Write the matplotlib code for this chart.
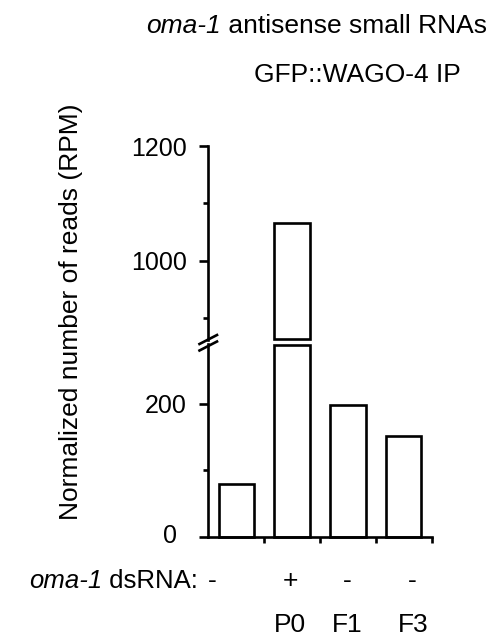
import matplotlib
matplotlib.use("Agg")
import matplotlib.pyplot as plt
from matplotlib.lines import Line2D
from matplotlib.transforms import ScaledTranslation
import numpy as np

plt.rcParams['font.family'] = ['Liberation Sans', 'DejaVu Sans']

# ---- data ----
conditions = ["-", "+", "-", "-"]
generations = ["", "P0", "F1", "F3"]
values = [80, 1065, 198, 152]
lower_major = [0, 200]
lower_minor = [100]
upper_major = [1000, 1200]
upper_minor = [900, 1100]

W, H = 491, 636
fig = plt.figure(figsize=(W / 100, H / 100), dpi=100)
renderer = fig.canvas.get_renderer()

def fx(px):
    return px / W

def fy(py):
    return 1 - py / H

left_px, right_px = 208.3, 431.7
low_bot, low_top = 536.7, 344.0
up_bot, up_top = 340.0, 146.0

ax_low = fig.add_axes([fx(left_px), fy(low_bot), fx(right_px) - fx(left_px), fy(low_top) - fy(low_bot)])
ax_up = fig.add_axes([fx(left_px), fy(up_bot), fx(right_px) - fx(left_px), fy(up_top) - fy(up_bot)])

LW = 1.9
FS = 19
TFS = 18
RFS = 18.5
low_lim = (0, 290)
up_lim = (862, 1200)
x = np.arange(len(values))
bw = 0.63

low_h = [min(v, low_lim[1] - 2) for v in values]
ax_low.bar(x, low_h, width=bw, facecolor="white", edgecolor="black", linewidth=LW, clip_on=False)
up_mask = [v > low_lim[1] for v in values]
up_x = [xi for xi, m in zip(x, up_mask) if m]
up_v = [v for v, m in zip(values, up_mask) if m]
up_b = up_lim[0] + 2
ax_up.bar(up_x, [v - up_b for v in up_v], bottom=up_b, width=bw, facecolor="white",
          edgecolor="black", linewidth=LW, clip_on=False)

for ax, lim, maj, mnr in [(ax_low, low_lim, lower_major, lower_minor), (ax_up, up_lim, upper_major, upper_minor)]:
    ax.set_xlim(-0.5, 3.5)
    ax.set_ylim(*lim)
    ax.spines['right'].set_visible(False)
    ax.spines['top'].set_visible(False)
    ax.spines['left'].set_linewidth(LW)
    ax.spines['bottom'].set_linewidth(LW)
    ax.set_yticks(maj)
    ax.set_yticks(mnr, minor=True)
    ax.set_yticklabels([str(m) for m in maj])
    ax.tick_params(axis='y', which='major', length=6.5, width=LW, labelsize=TFS, pad=9)
    ax.tick_params(axis='y', which='minor', length=3.5, width=LW)
    ax.patch.set_visible(False)

ax_up.spines['bottom'].set_visible(False)
ax_up.set_xticks([])

ax_low.set_xticks([0.5, 1.5, 2.5, 3.5])
ax_low.set_xticklabels([])
ax_low.tick_params(axis='x', length=4, width=LW)

# shift "0" label slightly left
zero_lbl = ax_low.yaxis.get_major_ticks()[0].label1
zero_lbl.set_transform(zero_lbl.get_transform() + ScaledTranslation(-0.10, 0.03, fig.dpi_scale_trans))

# break marks
for cy in (339.5, 346.0):
    fig.add_artist(Line2D([fx(199.5), fx(217)], [fy(cy + 4.5), fy(cy - 4.5)], color="black", linewidth=LW))

# axis label
fig.text(fx(71), fy(103), "Normalized number of reads (RPM)", rotation=90, ha="center", va="top", fontsize=FS)

def pair(right_x, base_y, italic_part, normal_part, size):
    t2 = fig.text(fx(right_x), fy(base_y), normal_part, ha="right", va="baseline", fontsize=size)
    bb = t2.get_window_extent(renderer)
    fig.text(bb.x0 / W, fy(base_y), italic_part, ha="right", va="baseline", fontsize=size, style="italic")

# titles
pair(487, 33.3, "oma-1", " antisense small RNAs", FS)
fig.text(fx(357.5), fy(81.7), "GFP::WAGO-4 IP", ha="center", va="baseline", fontsize=FS)

# condition row
pair(198, 588, "oma-1", " dsRNA:", RFS)
cond_x = [212, 290, 347, 412]
for cx, c in zip(cond_x, conditions):
    fig.text(fx(cx), fy(588), c, ha="center", va="baseline", fontsize=FS)
gen_x = [236, 290, 347, 413]
for gx, g in zip(gen_x, generations):
    if g:
        fig.text(fx(gx), fy(632), g, ha="center", va="baseline", fontsize=FS)

fig.savefig("out.png", dpi=100)
